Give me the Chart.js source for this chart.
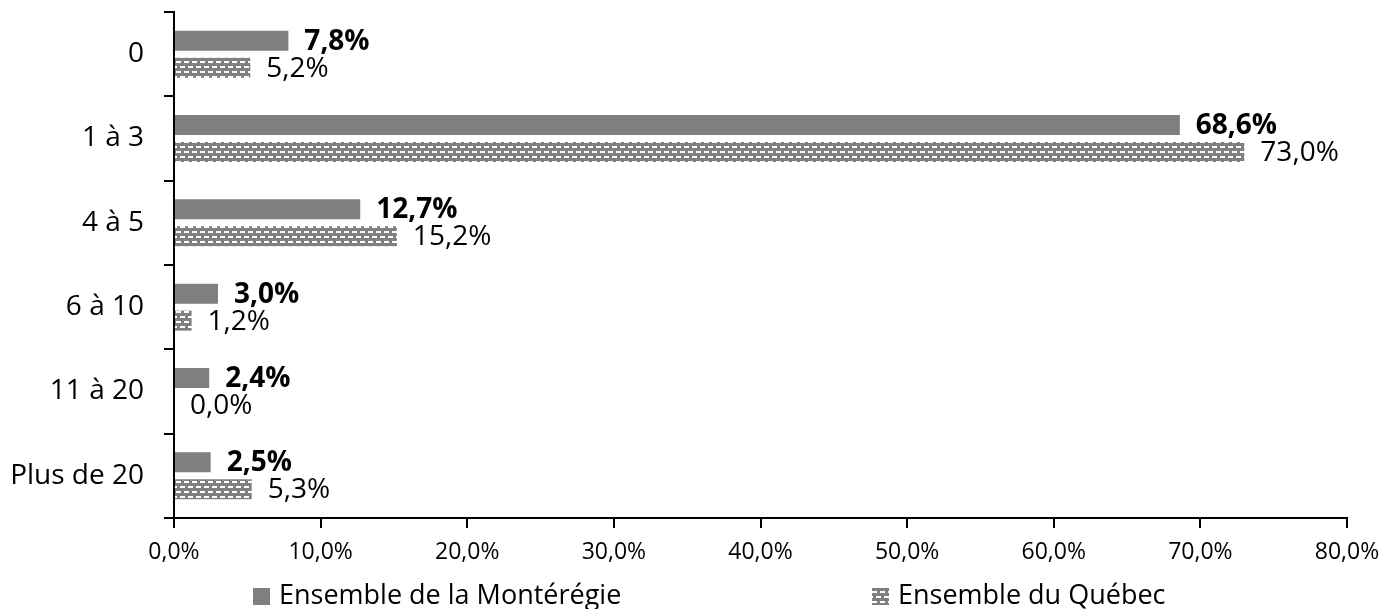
<!DOCTYPE html>
<html lang="fr">
<head>
<meta charset="utf-8">
<title>Ensemble de la Montérégie / Ensemble du Québec</title>
<script src="https://cdn.jsdelivr.net/npm/chart.js@4/dist/chart.umd.min.js"></script>
<style>
    html, body { margin: 0; padding: 0; background: #fff; }
    #wrap { width: 1384px; height: 609px; position: relative; }
</style>
</head>
<body>
<div id="wrap"><canvas id="chart" width="1384" height="609"></canvas></div>
<script>
// ─── données ───
const categories   = ['0', '1 à 3', '4 à 5', '6 à 10', '11 à 20', 'Plus de 20'];
const seriesNames  = ['Ensemble de la Montérégie', 'Ensemble du Québec'];
const monteregie   = [7.8, 68.6, 12.7, 3.0, 2.4, 2.5];
const quebec       = [5.2, 73.0, 15.2, 1.2, 0.0, 5.3];
const xTickValues  = [0, 10, 20, 30, 40, 50, 60, 70, 80];

const GREY = '#7f7f7f';
const FONT = "'Open Sans', 'DejaVu Sans', sans-serif";

// format français : 12,7%
const pct = v => v.toFixed(1).replace('.', ',') + '%';

// motif gris avec tirets blancs (série Québec)
function makePattern() {
    const c = document.createElement('canvas');
    c.width = 8; c.height = 10;
    const g = c.getContext('2d');
    g.fillStyle = GREY;
    g.fillRect(0, 0, 8, 10);
    g.fillStyle = '#fff';
    g.fillRect(0, 1, 5, 2);
    g.fillRect(4, 6, 4, 2);
    g.fillRect(0, 6, 1, 2);
    return g.createPattern(c, 'repeat');
}
const pattern = makePattern();

// étiquettes de valeur au bout des barres
const valueLabels = {
    id: 'valueLabels',
    afterDatasetsDraw(chart) {
        const ctx = chart.ctx;
        ctx.save();
        ctx.textAlign = 'left';
        ctx.textBaseline = 'middle';
        ctx.fillStyle = '#000';
        chart.data.datasets.forEach((ds, i) => {
            const meta = chart.getDatasetMeta(i);
            ctx.font = (i === 0 ? 'bold ' : '') + '28px ' + FONT;
            meta.data.forEach((el, j) => {
                ctx.fillText(pct(ds.data[j]), el.x + 16, el.y + 1);
            });
        });
        ctx.restore();
    }
};

// légende à la manière d'Excel (items très espacés)
const wideLegend = {
    id: 'wideLegend',
    afterDraw(chart, args, opts) {
        const ctx = chart.ctx;
        ctx.save();
        ctx.font = '27px ' + FONT;
        ctx.textBaseline = 'middle';
        chart.data.datasets.forEach((ds, i) => {
            const x = opts.xs[i];
            ctx.fillStyle = ds.backgroundColor;
            ctx.fillRect(x, opts.y - 8, 17, 17);
            ctx.fillStyle = '#000';
            ctx.fillText(ds.label, x + 26, opts.y);
        });
        ctx.restore();
    }
};

const ctx = document.getElementById('chart').getContext('2d');
new Chart(ctx, {
    type: 'bar',
    data: {
        labels: categories,
        datasets: [
            { label: seriesNames[0], data: monteregie, backgroundColor: GREY },
            { label: seriesNames[1], data: quebec, backgroundColor: pattern },
        ],
    },
    options: {
        indexAxis: 'y',
        responsive: false,
        animation: false,
        events: [],
        categoryPercentage: 0.64,
        barPercentage: 0.74,
        layout: { padding: { top: 12, right: 37, bottom: 41, left: 0 } },
        plugins: {
            legend: { display: false },
            tooltip: { enabled: false },
            wideLegend: { xs: [253, 872], y: 596 },
        },
        scales: {
            x: {
                min: 0,
                max: 80,
                afterBuildTicks: s => { s.ticks = xTickValues.map(v => ({ value: v })); },
                afterFit: s => { s.height = 50; s.paddingLeft = 0; s.paddingRight = 0; },
                grid: { drawOnChartArea: false, drawTicks: true, tickLength: 10, color: '#000', lineWidth: 2 },
                border: { display: true, color: '#000', width: 2 },
                ticks: { color: '#000', padding: 11, font: { family: FONT, size: 23 }, callback: v => pct(v), maxRotation: 0 },
            },
            y: {
                offset: true,
                afterFit: s => { s.width = 174; s.paddingTop = 0; s.paddingBottom = 0; },
                grid: { offset: true, drawOnChartArea: false, drawTicks: true, tickLength: 10, color: '#000', lineWidth: 2 },
                border: { display: true, color: '#000', width: 2 },
                ticks: { color: '#000', padding: 20, font: { family: FONT, size: 28 } },
            },
        },
    },
    plugins: [valueLabels, wideLegend],
});
</script>
</body>
</html>
